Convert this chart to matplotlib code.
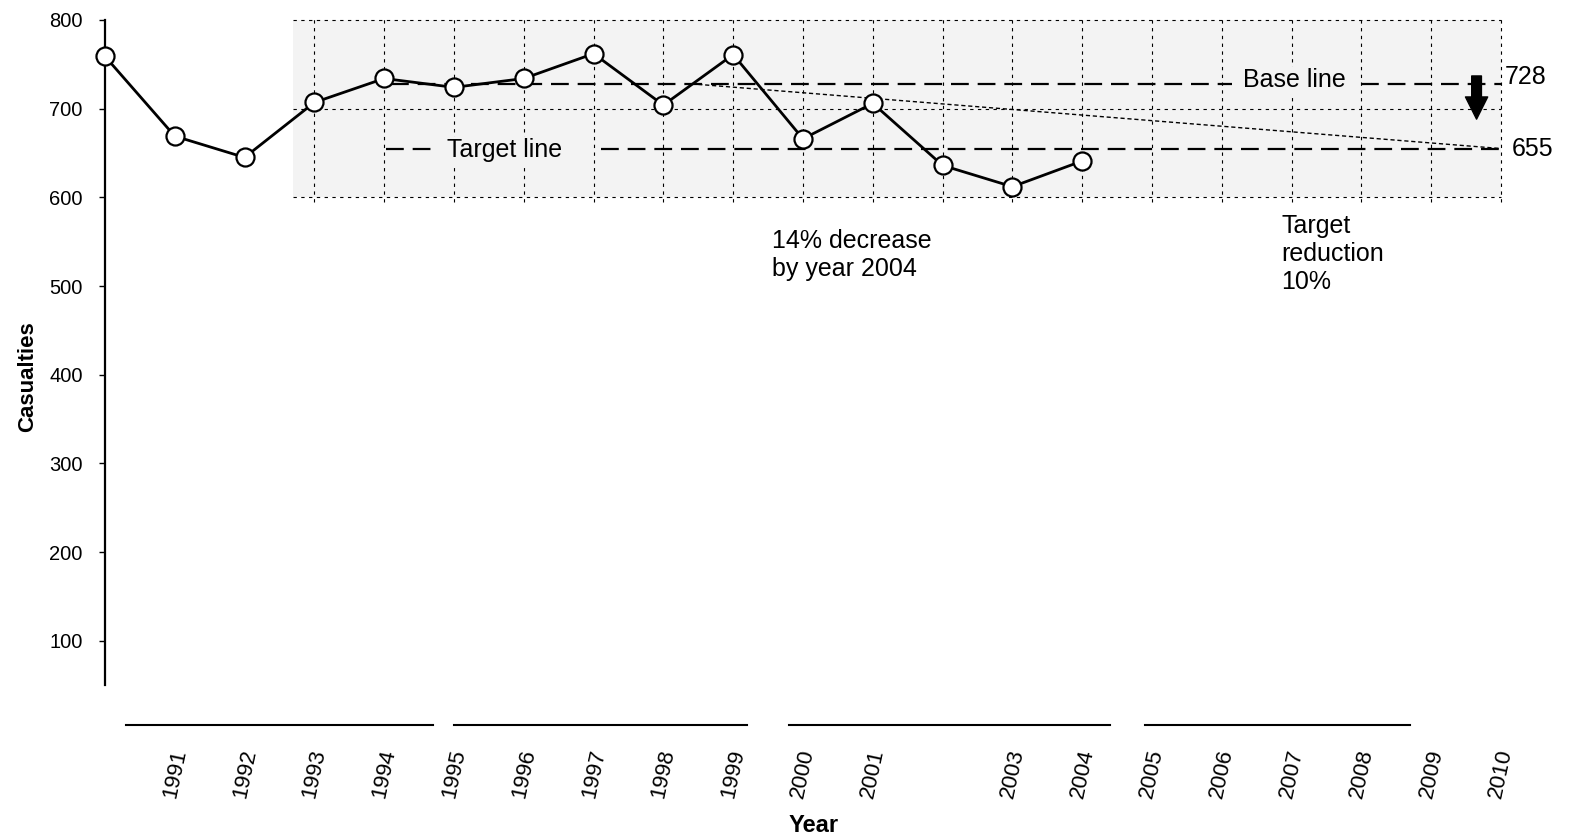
import matplotlib
matplotlib.use("Agg")
import matplotlib.pyplot as plt

# ---- data ----
years = [1990, 1991, 1992, 1993, 1994, 1995, 1996, 1997, 1998, 1999,
         2000, 2001, 2002, 2003, 2004]
casualties = [759, 669, 645, 707, 734, 724, 734, 762, 704, 761,
              666, 706, 636, 612, 641]
tick_years = [1991, 1992, 1993, 1994, 1995, 1996, 1997, 1998, 1999, 2000,
              2001, 2003, 2004, 2005, 2006, 2007, 2008, 2009, 2010]
tick_labels = [str(y) for y in tick_years]
yticks = [100, 200, 300, 400, 500, 600, 700, 800]
grid_years = list(range(1993, 2011))
grid_values = [600, 700, 800]
base_value = 728
target_value = 655
trajectory_years = [1998.4, 2010]
trajectory_values = [728, 655]
axis_segments = [(1990.3, 1994.7), (1995.0, 1999.2), (1999.8, 2004.4), (2004.9, 2008.7)]

FONT = 'Liberation Sans'
BG = '#f3f3f3'

fig = plt.figure(figsize=(15.76, 8.39), dpi=100)
ax = fig.add_axes([0.0666, 0.1359, 0.8991, 0.8403])
ax.set_xlim(1990, 2010.3)
ax.set_ylim(5, 800)

# light speckled background region
ax.axvspan(1992.7, 2010, ymin=(600 - 5) / 795, ymax=1.0, color=BG, zorder=0, lw=0)

# dashed grid
for gy in grid_years:
    ax.plot([gy, gy], [595, 805], ls=(0, (3, 4)), color='black', lw=0.8, zorder=1, clip_on=False)
for gv in grid_values:
    ax.plot([1992.7, 2010], [gv, gv], ls=(0, (3, 4)), color='black', lw=0.8, zorder=1, clip_on=False)

# base line (interrupted by its label)
ax.plot([1994.1, 2006.15], [base_value, base_value], ls=(0, (8, 4)), color='black', lw=1.6, zorder=2)
ax.plot([2008.0, 2010], [base_value, base_value], ls=(0, (8, 4)), color='black', lw=1.6, zorder=2)
ax.text(2006.3, base_value + 4, 'Base line', fontsize=18, va='center', ha='left',
        family=FONT, zorder=3, bbox=dict(facecolor=BG, edgecolor='none', pad=1))

# target line (interrupted by its label)
ax.plot([1994.03, 1994.75], [target_value, target_value], ls=(0, (8, 4)), color='black', lw=1.6, zorder=2)
ax.plot([1997.1, 2010], [target_value, target_value], ls=(0, (8, 4)), color='black', lw=1.6, zorder=2)
ax.text(1994.9, target_value - 2, 'Target line', fontsize=18, va='center', ha='left',
        family=FONT, zorder=3, bbox=dict(facecolor=BG, edgecolor='none', pad=1))

# target trajectory
ax.plot(trajectory_years, trajectory_values, ls=(0, (3, 2)), color='black', lw=1.0, zorder=2)

# data series
ax.plot(years, casualties, color='black', lw=2, marker='o', markersize=13,
        markerfacecolor='white', markeredgecolor='black', markeredgewidth=1.6,
        zorder=5, clip_on=False)

# value labels at the right
ax.text(2010.05, base_value + 8, '728', fontsize=18, va='center', ha='left',
        family=FONT, clip_on=False)
ax.text(2010.15, target_value, '655', fontsize=18, va='center', ha='left',
        family=FONT, clip_on=False)

# arrow
ax.annotate('', xy=(2009.65, 685), xytext=(2009.65, 740),
            arrowprops=dict(arrowstyle='simple,head_width=0.8,head_length=0.8,tail_width=0.35',
                            color='black', mutation_scale=20), zorder=6)

# annotations
ax.text(1999.55, 535, '14% decrease\nby year 2004', fontsize=18, va='center', ha='left',
        family=FONT, linespacing=1.25)
ax.text(2006.85, 536, 'Target\nreduction\n10%', fontsize=18, va='center', ha='left',
        family=FONT, linespacing=1.2)

# axes styling
for s in ['top', 'right', 'bottom']:
    ax.spines[s].set_visible(False)
ax.spines['left'].set_bounds(50, 800)
ax.spines['left'].set_linewidth(1.6)

for a, b in axis_segments:
    ax.plot([a, b], [5, 5], color='black', lw=1.5, clip_on=False, zorder=2)

ax.set_yticks(yticks)
ax.set_yticklabels([str(v) for v in yticks], family=FONT, fontsize=14.5)
ax.tick_params(axis='y', length=4, width=1, pad=12)
ax.set_xticks(tick_years)
ax.set_xticklabels(tick_labels, rotation=78, fontsize=16, family=FONT,
                   ha='center', va='top')
ax.tick_params(axis='x', length=0, pad=16)

ax.set_ylabel('Casualties', fontsize=16, fontweight='bold', family=FONT)
ax.yaxis.set_label_coords(-0.047, 0.494)
ax.set_xlabel('Year', fontsize=17, fontweight='bold', family=FONT, labelpad=10)

fig.savefig('out.png', dpi=100)
